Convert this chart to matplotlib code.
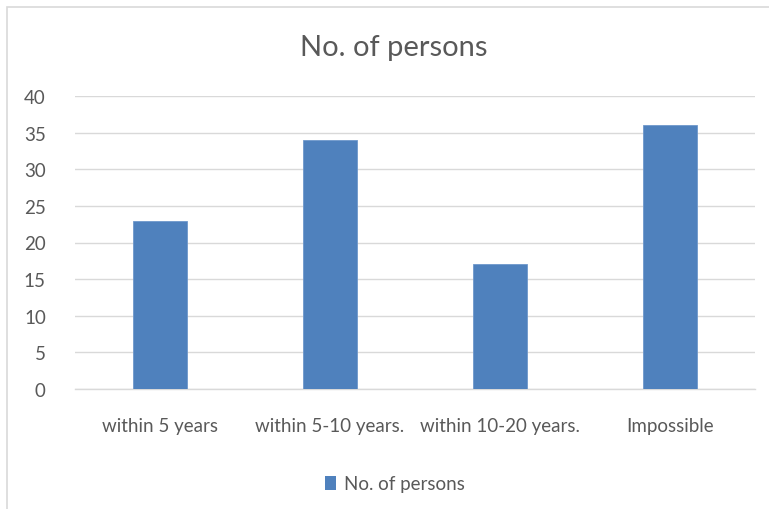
import matplotlib
matplotlib.use("Agg")
import matplotlib.pyplot as plt
from matplotlib.patches import Rectangle, Patch

categories = ["within 5 years", "within 5-10 years.", "within 10-20 years.", "Impossible"]
persons = [23, 34, 17, 36]
yticks = [0, 5, 10, 15, 20, 25, 30, 35, 40]

plt.rcParams["font.family"] = ["Lato", "DejaVu Sans"]
text_color = "#595959"
bar_color = "#4f81bd"

fig = plt.figure(figsize=(7.69, 5.10), dpi=100)
fig.patch.set_facecolor("white")

# chart frame
fig.add_artist(Rectangle((7 / 769, -0.1), 1.2, (1 - 8 / 510) + 0.1,
                         transform=fig.transFigure, fill=False,
                         edgecolor="#d9d9d9", linewidth=1.2))

ax = fig.add_axes([75 / 769, 1 - 390 / 510, 680 / 769, 293 / 510])
x = range(len(categories))
ax.bar(x, persons, width=0.32, color=bar_color, edgecolor="#6f98cc",
       linewidth=0.6, zorder=3)
ax.set_xlim(-0.5, len(categories) - 0.5)
ax.set_ylim(0, 40)
ax.set_yticks(yticks)
ax.set_yticklabels([str(v) for v in yticks])
ax.set_xticks(list(x))
ax.set_xticklabels(categories)
ax.tick_params(axis="both", length=0, labelsize=13.5, colors=text_color)
ax.tick_params(axis="y", pad=21)
ax.tick_params(axis="x", pad=20)
ax.grid(axis="y", color="#d9d9d9", linewidth=1.0, zorder=0)
for side in ["top", "right", "left"]:
    ax.spines[side].set_visible(False)
ax.spines["bottom"].set_color("#d9d9d9")
ax.spines["bottom"].set_linewidth(1.0)

fig.text(0.5 * (300 + 488) / 769, 1 - 48 / 510, "No. of persons",
         ha="center", va="center", fontsize=21, color=text_color)

fig.legend(handles=[Patch(facecolor=bar_color, label="No. of persons")],
           loc="center", bbox_to_anchor=(395 / 769, 1 - 485 / 510),
           frameon=False, fontsize=13.5, labelcolor=text_color,
           handlelength=0.6, handleheight=0.8, handletextpad=0.4)

fig.savefig("out.png", dpi=100, facecolor="white")
